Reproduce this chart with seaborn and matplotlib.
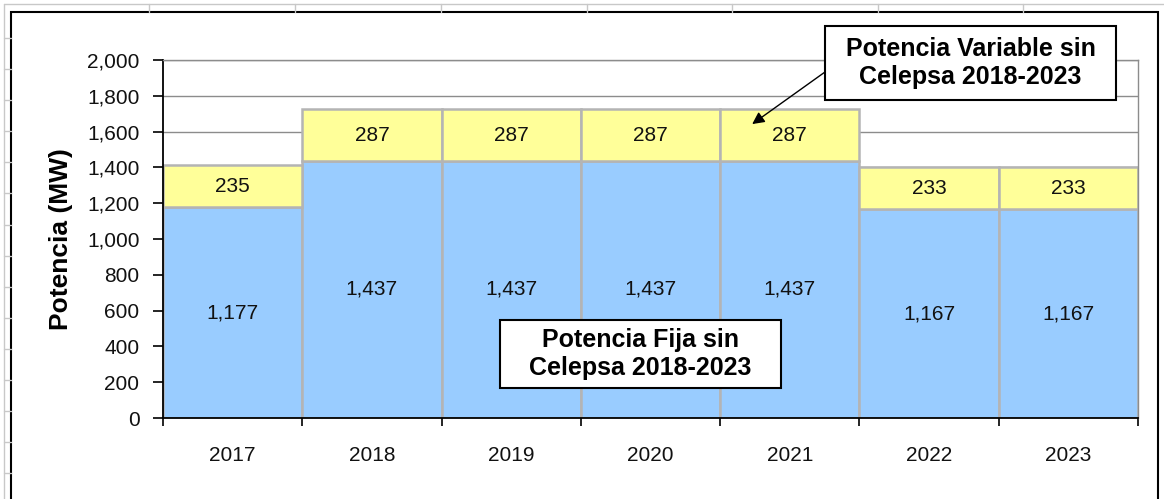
import numpy as np
import pandas as pd
import matplotlib
matplotlib.use("Agg")
import matplotlib.pyplot as plt
from matplotlib.lines import Line2D
from matplotlib.patches import Rectangle
from matplotlib.ticker import FixedLocator, FixedFormatter, NullFormatter, FuncFormatter
import seaborn as sns

# Data
years = ["2017", "2018", "2019", "2020", "2021", "2022", "2023"]
fija = [1177, 1437, 1437, 1437, 1437, 1167, 1167]
variable = [235, 287, 287, 287, 287, 233, 233]

df = pd.DataFrame({"year": years, "fija": fija, "variable": variable})

# Style
sns.set_theme(style="white")
plt.rcParams["font.family"] = ["Liberation Sans", "DejaVu Sans"]

W, H = 1164, 499
fig = plt.figure(figsize=(W / 100, H / 100), dpi=100)
ax = fig.add_axes([163 / W, 1 - 418 / H, 975 / W, 358 / H])

# -------------------------------
# stacked bars (no gap, Excel look)
# -------------------------------
sns.barplot(data=df, x="year", y="fija", color="#99CCFF", saturation=1,
            width=1, edgecolor="#B4B4B4", linewidth=1.8, errorbar=None, ax=ax)
sns.barplot(data=df, x="year", y="variable", bottom=df["fija"].values,
            color="#FFFF99", saturation=1, width=1, edgecolor="#B4B4B4",
            linewidth=1.8, errorbar=None, ax=ax)

ax.bar_label(ax.containers[0], labels=[f"{v:,}" for v in fija],
             label_type="center", fontsize=15, color="#111111")
ax.bar_label(ax.containers[1], labels=[f"{v:,}" for v in variable],
             label_type="center", fontsize=15, color="#111111")

# axes
ax.set_xlim(-0.5, 6.5)
ax.set_ylim(0, 2000)
ax.set_yticks(np.arange(0, 2001, 200))
ax.yaxis.set_major_formatter(FuncFormatter(lambda v, p: f"{int(v):,}"))
ax.xaxis.set_major_locator(FixedLocator(np.arange(-0.5, 7, 1)))
ax.xaxis.set_major_formatter(NullFormatter())
ax.xaxis.set_minor_locator(FixedLocator(np.arange(7)))
ax.xaxis.set_minor_formatter(FixedFormatter(years))
ax.tick_params(axis="x", which="major", bottom=True, direction="out",
               length=6, width=1.2, color="black")
ax.tick_params(axis="x", which="minor", bottom=True, length=0, pad=20,
               labelsize=15, labelcolor="#111111")
ax.tick_params(axis="y", which="major", left=True, direction="out",
               length=7, width=1.2, color="black", pad=10,
               labelsize=15, labelcolor="#111111")
ax.set_xlabel("")
ax.set_ylabel("Potencia (MW)", fontsize=19, fontweight="bold", color="black")
ax.yaxis.set_label_coords(-0.092, 0.5)

ax.yaxis.grid(True, color="#8C8C8C", linewidth=1)
ax.set_axisbelow(True)
for s in ["left", "bottom"]:
    ax.spines[s].set_color("black")
    ax.spines[s].set_linewidth(1.3)
for s in ["top", "right"]:
    ax.spines[s].set_color("#8C8C8C")
    ax.spines[s].set_linewidth(1)

# -------------------------------
# annotation boxes
# -------------------------------
def note_box(x0, y0, x1, y1, text):
    fig.add_artist(Rectangle((x0 / W, 1 - y1 / H), (x1 - x0) / W, (y1 - y0) / H,
                             transform=fig.transFigure, fc="white", ec="black",
                             lw=1.5, zorder=9))
    fig.text((x0 + x1) / 2 / W, 1 - (y0 + y1) / 2 / H, text, ha="center",
             va="center", fontsize=18, fontweight="bold", linespacing=1.25,
             color="black", zorder=10)

note_box(825, 26, 1116, 100, "Potencia Variable sin\nCelepsa 2018-2023")
note_box(500, 320, 781, 388, "Potencia Fija sin\nCelepsa 2018-2023")

ax.annotate("", xy=(3.73, 1642), xycoords="data",
            xytext=(825 / W, 1 - 72 / H), textcoords="figure fraction",
            arrowprops=dict(arrowstyle="-|>", color="black", lw=1, mutation_scale=18,
                            shrinkA=0, shrinkB=0),
            annotation_clip=False, zorder=8)

# spreadsheet cells + chart frame around the plot
grey = "#C8C8C8"
fig.add_artist(Line2D([4 / W, 4 / W], [0, 1 - 4 / H], transform=fig.transFigure, color=grey, lw=1))
fig.add_artist(Line2D([4 / W, 1], [1 - 4 / H, 1 - 4 / H], transform=fig.transFigure, color=grey, lw=1))
for cx in [149, 295, 441, 587, 732, 878, 1023]:
    fig.add_artist(Line2D([cx / W, cx / W], [1 - 4 / H, 1 - 12 / H], transform=fig.transFigure, color=grey, lw=1))
for ry in np.arange(38, 499, 31.1):
    fig.add_artist(Line2D([4 / W, 11 / W], [1 - ry / H, 1 - ry / H], transform=fig.transFigure, color=grey, lw=1))
fig.add_artist(Rectangle((11 / W, -0.02), (1158 - 11) / W, 1 - 12 / H + 0.02,
                         transform=fig.transFigure, fill=False, ec="black", lw=1.5))

fig.savefig("out.png", dpi=100)
